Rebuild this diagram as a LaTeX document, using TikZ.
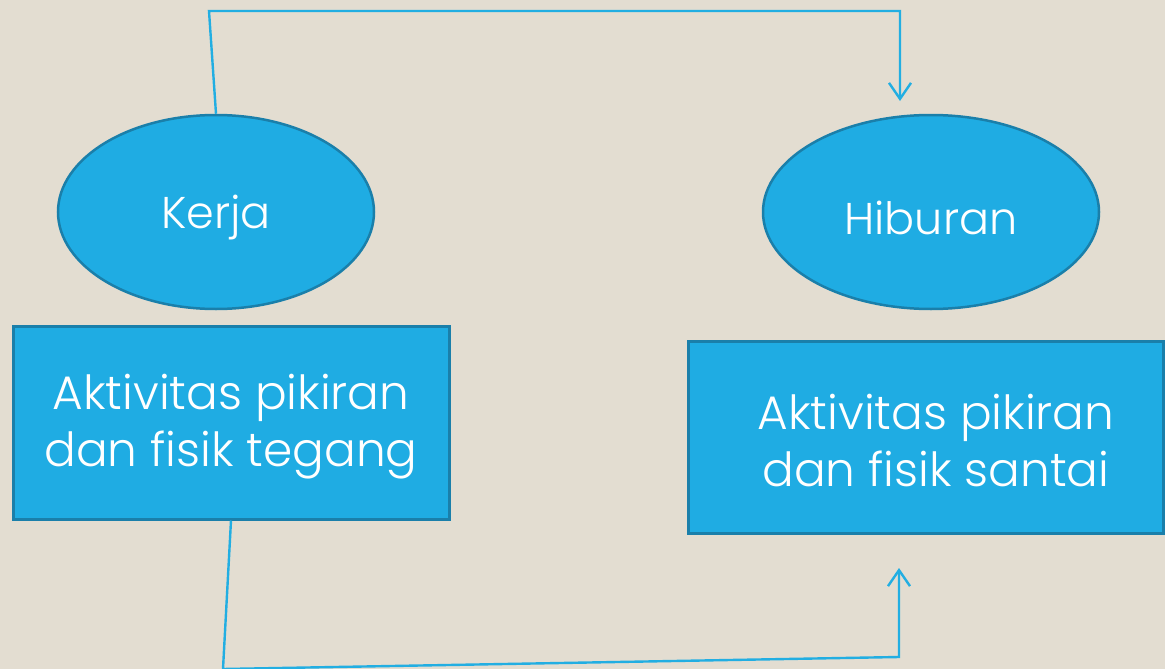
\documentclass[tikz,border=0pt]{standalone}
\usepackage{fontspec}
\setmainfont{Poppins Light}
\usetikzlibrary{shapes.geometric,arrows.meta}
\definecolor{paper}{HTML}{E3DDD1}
\definecolor{boxfill}{HTML}{1FACE3}
\definecolor{boxedge}{HTML}{1A7FAA}
\definecolor{wire}{HTML}{22AEE2}
\tikzset{
  oval/.style={ellipse, draw=boxedge, line width=2.5pt, fill=boxfill, inner sep=0pt},
  ovaltext/.style={text=white, font=\fontsize{44.5}{46}\selectfont},
  blockbox/.style={rectangle, draw=boxedge, line width=3pt, fill=boxfill},
  blocktext/.style={text=white, align=center, inner sep=0pt, font=\fontsize{47}{57}\selectfont},
  flow/.style={draw=wire, line width=2.4pt, line join=miter},
  tip/.style={-{Straight Barb[length=16pt,width=22pt,line width=2.4pt]}}
}
\begin{document}
\begin{tikzpicture}[x=1pt,y=-1pt]
  \fill[paper] (0,0) rectangle (1165,669);
  \useasboundingbox (0,0) rectangle (1165,669);

  % ovals
  \node[oval, minimum width=316pt, minimum height=194pt] (kerja) at (216,212) {};
  \node[oval, minimum width=336pt, minimum height=194pt] (hiburan) at (931,212) {};
  \node[ovaltext] (kerjalabel) at (216,218) {Kerja};
  \node[ovaltext] (hiburanlabel) at (931,218) {Hiburan};

  % boxes
  \node[blockbox, minimum width=436pt, minimum height=193pt] (tegang) at (231,422.5) {};
  \node[blockbox, minimum width=475pt, minimum height=192pt] (santai) at (925.5,437) {};
  \node[blocktext] (tegangtext) at (231,427) {Aktivitas pikiran\\dan fisik tegang};
  \node[blocktext] (santaitext) at (936,441) {Aktivitas pikiran\\dan fisik santai};

  % route corners
  \coordinate (t1) at (209,11);
  \coordinate (t2) at (900,11);
  \coordinate (t3) at (900,101);
  \coordinate (b1) at (223,669);
  \coordinate (b2) at (899,657);
  \coordinate (b3) at (899,568);

  % connectors
  \draw[flow, tip] (kerja.north) -- (t1) -- (t2) -- (t3);
  \draw[flow, tip] (tegang.south) -- (b1) -- (b2) -- (b3);
\end{tikzpicture}
\end{document}
